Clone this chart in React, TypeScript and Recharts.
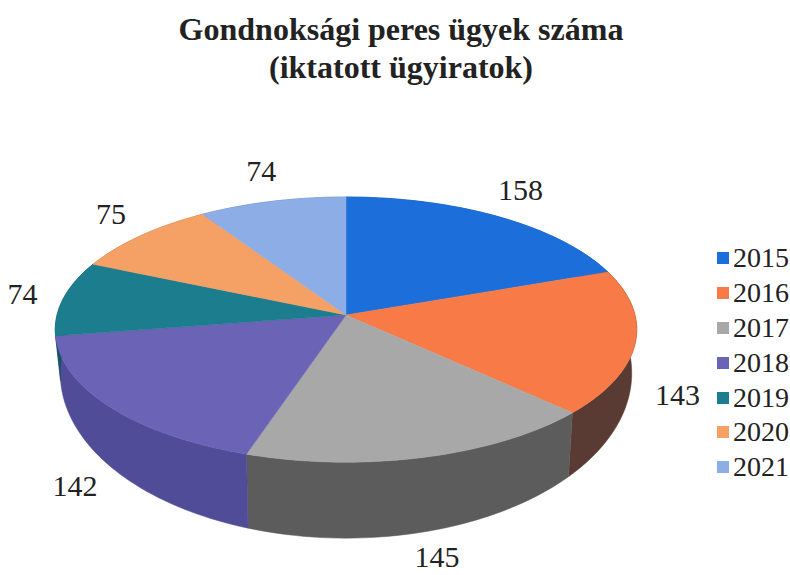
import React from 'react';
import { PieChart, Pie, Cell, Legend } from 'recharts';

const years = ['2015', '2016', '2017', '2018', '2019', '2020', '2021'];
const counts = [158, 143, 145, 142, 74, 75, 74];
const topColors = ['#1c6fdb', '#f87a46', '#a8a8a8', '#6a63b6', '#1b7d8d', '#f5a065', '#8cade6'];
const sideColors = ['#124a94', '#5a3b34', '#5c5c5c', '#504c98', '#125562', '#a86c42', '#5d76a0'];

const data = years.map((y, i) => ({ name: y, value: counts[i] }));

const SERIF = "'Liberation Serif', 'Times New Roman', Times, serif";

const CX = 346;
const CY = 315;
const RX = 289;
// top face perspective
const RY_T = 131;
const K_T = 0.11;
// bottom face perspective
const CY_B = 355;
const RX_B = 284;
const RY_B = 163;
const K_B = 0.11;

const RAD = Math.PI / 180;

function topPt(a: number, cx: number, cy: number) {
  const u = Math.cos(a * RAD);
  const v = Math.sin(a * RAD);
  const w = 1 + K_T * v;
  return [cx + (RX * u) / w, cy - (RY_T * v) / w];
}
function botPt(a: number, cx: number, cy: number) {
  const u = Math.cos(a * RAD);
  const v = Math.sin(a * RAD);
  const w = 1 + K_B * v;
  return [cx + (RX_B * u) / w, cy + (CY_B - CY) - (RY_B * v) / w];
}

function arcPts(a1: number, a2: number, fn: (a: number, cx: number, cy: number) => number[], cx: number, cy: number) {
  const n = Math.max(8, Math.ceil(Math.abs(a2 - a1) / 1.5));
  const pts: number[][] = [];
  for (let i = 0; i <= n; i++) {
    const a = a1 + ((a2 - a1) * i) / n;
    pts.push(fn(a, cx, cy));
  }
  return pts;
}

const TopShape = (props: any) => {
  const { cx, cy, startAngle, endAngle, index } = props;
  const pts = arcPts(startAngle, endAngle, topPt, cx, cy);
  const d = `M${cx},${cy} ` + pts.map((p) => `L${p[0].toFixed(2)},${p[1].toFixed(2)}`).join(' ') + ' Z';
  return <path d={d} fill={topColors[index % topColors.length]} stroke={topColors[index % topColors.length]} strokeWidth={0.5} />;
};

const SideShape = (props: any) => {
  const { cx, cy, startAngle, endAngle, index } = props;
  const t = arcPts(startAngle, endAngle, topPt, cx, cy);
  const b = arcPts(endAngle, startAngle, botPt, cx, cy);
  const all = [...t, ...b];
  const d = 'M' + all.map((p) => `${p[0].toFixed(2)},${p[1].toFixed(2)}`).join(' L') + ' Z';
  return <path d={d} fill={sideColors[index % sideColors.length]} stroke={sideColors[index % sideColors.length]} strokeWidth={0.5} />;
};

const renderLabel = (props: any) => {
  const { cx, cy, midAngle, value } = props;
  const u = Math.cos(midAngle * RAD);
  const v = Math.sin(midAngle * RAD);
  let x: number;
  let y: number;
  if (v >= 0) {
    const w = 1 + K_T * v;
    x = cx + ((RX + 42) * u) / w;
    y = cy - ((RY_T + 36) * v) / w;
  } else {
    const w = 1 + K_B * v;
    x = cx + ((RX + 42) * u) / w;
    y = cy + (CY_B - CY) - ((RY_B + 23) * v) / w;
  }
  return (
    <text x={x} y={y} textAnchor="middle" dominantBaseline="central" fill="#222" fontSize={30} style={{ fontFamily: SERIF }}>
      {value}
    </text>
  );
};

const LegendContent = (props: any) => {
  const seen = new Set<string>();
  const items = (props.payload || []).filter((p: any) => {
    if (p.type === 'none' || seen.has(p.value)) return false;
    seen.add(p.value);
    return true;
  });
  return (
    <div style={{ fontFamily: SERIF, fontSize: 28, color: '#222' }}>
      {items.map((it: any, i: number) => (
        <div key={i} style={{ display: 'flex', alignItems: 'center', height: 34.8 }}>
          <span style={{ display: 'inline-block', width: 12, height: 12, background: it.color, marginRight: 4 }} />
          <span style={{ lineHeight: '28px' }}>{it.value}</span>
        </div>
      ))}
    </div>
  );
};

export default function App() {
  return (
    <div style={{ position: 'absolute', left: 0, top: 0, width: 790, height: 575, background: '#fff' }}>
      <div
        style={{
          position: 'absolute',
          left: 0,
          top: 10,
          width: 802,
          textAlign: 'center',
          fontFamily: SERIF,
          fontWeight: 'bold',
          fontSize: 32,
          lineHeight: '38px',
          color: '#222',
        }}
      >
        <div>Gondnoksági peres ügyek száma</div>
        <div>(iktatott ügyiratok)</div>
      </div>
      <PieChart width={790} height={575} margin={{ top: 0, right: 0, bottom: 0, left: 0 }}>
        <Pie
          data={data}
          dataKey="value"
          nameKey="name"
          cx={CX}
          cy={CY}
          outerRadius={RX}
          startAngle={90}
          endAngle={-270}
          isAnimationActive={false}
          legendType="none"
          shape={SideShape}
          stroke="none"
        >
          {data.map((d, i) => (
            <Cell key={i} fill={sideColors[i]} />
          ))}
        </Pie>
        <Pie
          data={data}
          dataKey="value"
          nameKey="name"
          cx={CX}
          cy={CY}
          outerRadius={RX}
          startAngle={90}
          endAngle={-270}
          isAnimationActive={false}
          legendType="square"
          shape={TopShape}
          label={renderLabel}
          labelLine={false}
          stroke="none"
        >
          {data.map((d, i) => (
            <Cell key={i} fill={topColors[i]} />
          ))}
        </Pie>
        <Legend
          layout="vertical"
          align="right"
          verticalAlign="top"
          content={LegendContent}
          wrapperStyle={{ position: 'absolute', left: 717, top: 241, width: 80 }}
        />
      </PieChart>
    </div>
  );
}
